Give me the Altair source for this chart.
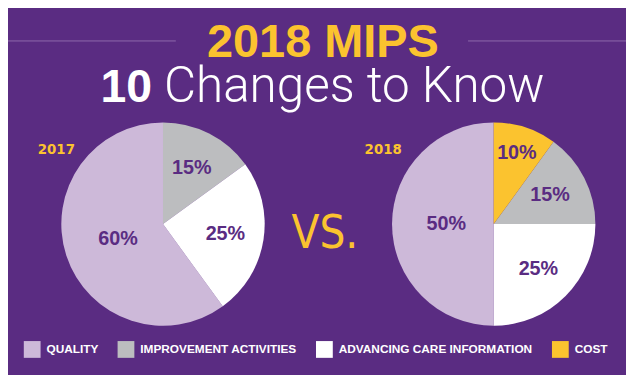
import altair as alt
import pandas as pd

# ---- data ----
years = ["2017", "2018"]
categories = ["QUALITY", "IMPROVEMENT ACTIVITIES", "ADVANCING CARE INFORMATION", "COST"]
values_2017 = [60, 15, 25, 0]
values_2018 = [50, 15, 25, 10]
# clockwise order from 12 o'clock
slice_order = {"COST": 0, "IMPROVEMENT ACTIVITIES": 1, "ADVANCING CARE INFORMATION": 2, "QUALITY": 3}
title_line1 = "2018 MIPS"
title_bold = "10"
title_rest = "Changes to Know"
vs_text = "VS."

# ---- style ----
BG = "#5a2c82"
YELLOW = "#fbc32f"
colors = ["#cdb9d9", "#bcbdbf", "#ffffff", "#fbc32f"]
LABEL_PURPLE = "#5a2c82"

rows = []
for yr, vals in zip(years, [values_2017, values_2018]):
    for cat, v in zip(categories, vals):
        rows.append({"year": yr, "category": cat, "value": v, "order": slice_order[cat]})
df = pd.DataFrame(rows)

centers = {"2017": (157, 216.5), "2018": (492, 216.5)}
R = 103
theta_scale = alt.Scale(domain=[0, 100])

color_enc = alt.Color(
    "category:N",
    scale=alt.Scale(domain=categories, range=colors),
    legend=alt.Legend(
        title=None,
        orient="none",
        legendX=16,
        legendY=335,
        direction="horizontal",
        symbolType="square",
        symbolSize=289,
        symbolStrokeWidth=0,
        symbolOpacity=1,
        labelColor="white",
        labelFont="Liberation Sans",
        labelFontWeight="bold",
        labelFontSize=12,
        labelOffset=6,
        columnPadding=19,
        padding=0,
        labelLimit=400,
    ),
)

base = alt.Chart(df)
layers = []
for yr in years:
    cx, cy = centers[yr]
    arc = (
        base.transform_filter(alt.datum.year == yr)
        .transform_filter(alt.datum.value > 0)
        .mark_arc(outerRadius=R, x=cx, y=cy, strokeWidth=0)
        .encode(
            theta=alt.Theta("value:Q", stack=True, scale=theta_scale),
            color=color_enc,
            order=alt.Order("order:Q"),
        )
    )
    txt = (
        base.transform_filter(alt.datum.year == yr)
        .transform_filter(alt.datum.value > 0)
        .transform_stack(stack="value", groupby=["year"], as_=["s0", "s1"],
                         sort=[alt.SortField("order", order="ascending")])
        .transform_calculate(
            mid="(datum.s0 + datum.s1) / 2",
            pct="datum.value + '%'",
            r="datum.category == 'QUALITY' ? 48 : (datum.category == 'COST' ? 76 : 64)",
        )
        .mark_text(
            x=cx, y=cy, font="Liberation Sans", fontWeight="bold", fontSize=20,
            color=LABEL_PURPLE, baseline="middle", align="center",
        )
        .encode(
            theta=alt.Theta("mid:Q", stack=None, scale=theta_scale),
            radius=alt.Radius("r:Q", scale=None),
            text="pct:N",
        )
    )
    layers += [arc, txt]

year_df = pd.DataFrame({"year": years, "xpos": [49, 380]})
year_labels = (
    alt.Chart(year_df)
    .mark_text(font="DejaVu Sans", fontWeight="bold", fontSize=13.5, color=YELLOW,
               baseline="middle", align="center", y=142)
    .encode(x=alt.X("xpos:Q", scale=None), text="year:N")
)

one = pd.DataFrame({"a": [0]})
t1 = alt.Chart(pd.DataFrame({"t": [title_line1]})).mark_text(
    font="Liberation Sans", fontWeight="bold", fontSize=47.5, color=YELLOW,
    align="center", baseline="alphabetic", x=319, y=47,
).encode(text="t:N")
t2a = alt.Chart(pd.DataFrame({"t": [title_bold]})).mark_text(
    font="Liberation Sans", fontWeight="bold", fontSize=47, color="white",
    align="right", baseline="alphabetic", x=146, y=93,
).encode(text="t:N")
t2b = alt.Chart(pd.DataFrame({"t": [title_rest]})).mark_text(
    font="Roboto", fontWeight=300, fontSize=50, color="white",
    align="left", baseline="alphabetic", x=158, y=93,
).encode(text="t:N")
vs = alt.Chart(pd.DataFrame({"t": [vs_text]})).mark_text(
    font="'Liberation Sans Narrow', 'Noto Sans ExtraCondensed Light', 'Noto Sans ExtraCondensed', 'Noto Sans Condensed', 'DejaVu Sans Condensed', 'Roboto'",
    fontWeight=300, fontSize=46, color=YELLOW,
    align="center", baseline="alphabetic", x=321, y=241,
).encode(text="t:N")

line_l = alt.Chart(one).mark_rule(color="#8d6aab", strokeWidth=1).encode(
    x=alt.value(-8), x2=alt.value(170), y=alt.value(31))
line_r = alt.Chart(one).mark_rule(color="#8d6aab", strokeWidth=1).encode(
    x=alt.value(466), x2=alt.value(626), y=alt.value(31))

chart = alt.layer(line_l, line_r, *layers, year_labels, t1, t2a, t2b, vs).properties(
    width=626, height=367, autosize=alt.AutoSizeParams(type="none"), padding=0,
    background=BG,
).configure_view(strokeWidth=0)

chart.save("out.html", embed_options={"renderer": "svg", "actions": False})
